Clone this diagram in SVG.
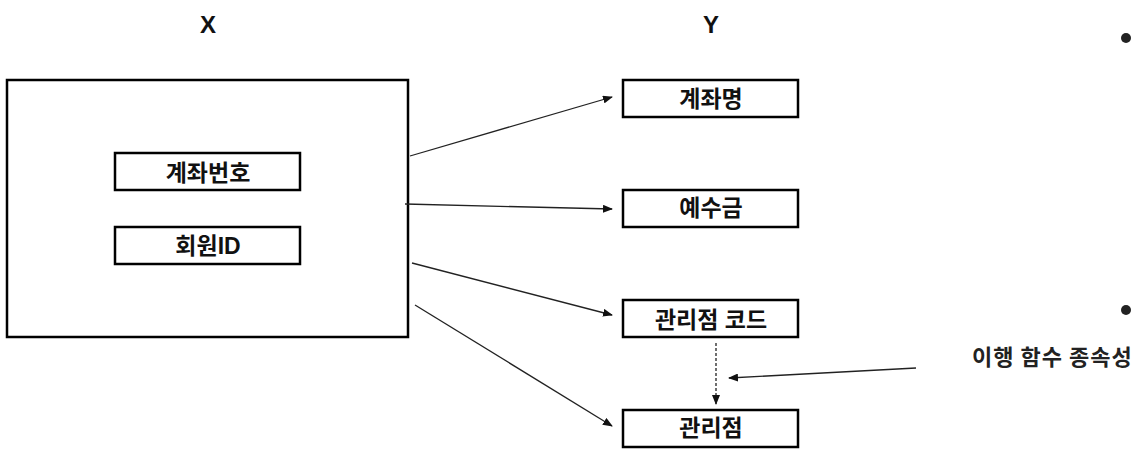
<svg xmlns="http://www.w3.org/2000/svg" width="1138" height="474" viewBox="0 0 1138 474">
<style>
.box{fill:#fff;stroke:#000;stroke-width:2.5}
.t{font-family:"Liberation Sans","Noto Sans CJK KR",sans-serif;font-weight:bold;font-size:23px;fill:#111;text-anchor:middle}
.h{font-family:"Liberation Sans","Noto Sans CJK KR",sans-serif;font-weight:bold;font-size:24px;fill:#111;text-anchor:middle}
.c{stroke:#222;stroke-width:1.3;fill:none;marker-end:url(#ah)}
</style>
<defs>
<marker id="ah" markerWidth="10" markerHeight="8" refX="9" refY="4" orient="auto" markerUnits="userSpaceOnUse">
<path d="M0,0 L10,4 L0,8 Z" fill="#111"/>
</marker>
</defs>
<rect width="1138" height="474" fill="#fff"/>
<text class="h" x="208" y="33">X</text>
<text class="h" x="711" y="33">Y</text>
<g id="X">
<rect class="box" x="7" y="80" width="401" height="257"/>
</g>
<g id="n_acctno">
<rect class="box" x="115" y="153" width="185" height="37"/>
<text class="t" x="208" y="181">계좌번호</text>
</g>
<g id="n_member">
<rect class="box" x="115" y="227" width="185" height="37"/>
<text class="t" x="208" y="254">회원ID</text>
</g>
<g id="n_acctname">
<rect class="box" x="623" y="80" width="175" height="37"/>
<text class="t" x="711" y="107">계좌명</text>
</g>
<g id="n_deposit">
<rect class="box" x="623" y="190" width="175" height="37"/>
<text class="t" x="711" y="216">예수금</text>
</g>
<g id="n_branchcode">
<rect class="box" x="623" y="300" width="175" height="37"/>
<text class="t" x="711" y="328">관리점 코드</text>
</g>
<g id="n_branch">
<rect class="box" x="623" y="410" width="175" height="37"/>
<text class="t" x="711" y="436">관리점</text>
</g>
<g id="connectors">
<line class="c" x1="410" y1="156" x2="612" y2="97"/>
<line class="c" x1="405" y1="204" x2="612" y2="209"/>
<line class="c" x1="412" y1="263" x2="612" y2="315"/>
<line class="c" x1="415" y1="305" x2="612" y2="426"/>
<line class="c" x1="716" y1="343" x2="716" y2="404" stroke-dasharray="3,2"/>
<line class="c" x1="916" y1="368" x2="729" y2="378"/>
</g>
<g id="label">
<text x="972" y="365" style="font-family:'Noto Sans CJK KR',sans-serif;font-weight:bold;font-size:22px;letter-spacing:1px;fill:#222">이행 함수 종속성</text>
<circle cx="1126" cy="38" r="5" fill="#222"/>
<circle cx="1126" cy="310" r="5" fill="#222"/>
</g>
</svg>
